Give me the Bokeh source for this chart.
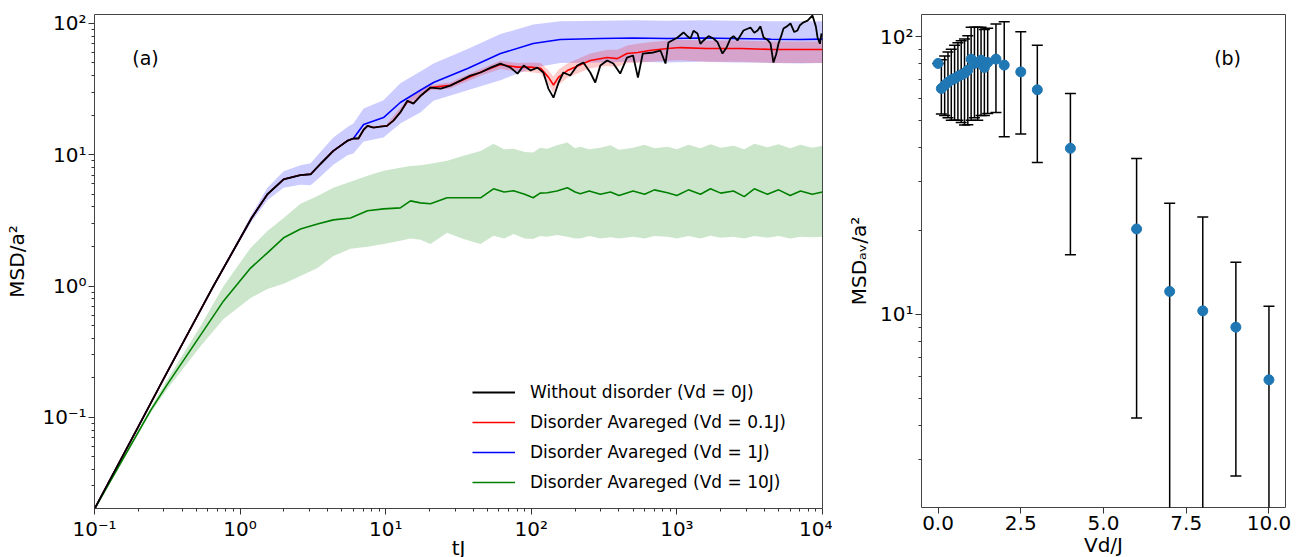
from bokeh.plotting import figure
from bokeh.models import (FixedTicker, Legend, LegendItem, Label, Whisker, TeeHead,
                          ColumnDataSource, Range1d)
from bokeh.layouts import row
from bokeh.embed import file_html
from bokeh.resources import INLINE

# ---------------- panel (a) data ----------------
black_t = [0.1, 0.2, 0.3, 0.578, 0.656, 1.0, 1.2, 1.54, 1.99, 2.6, 3.05, 3.56, 4.37, 5.47, 6.0, 6.5, 7.05,
           7.5, 8.24, 9.2, 10.2, 11.3, 12.6, 14.1, 15.5, 17.3, 20.3, 23.9, 27.8, 32.6, 38.2, 44.8, 52.6,
           61.4, 72, 80.4, 88.6, 98.9, 110, 121, 131, 142, 154, 166, 185, 207, 228, 254, 275, 298, 332,
           366, 408, 454, 500, 540, 583, 690, 771, 835, 875,
           1010, 1110, 1180, 1240, 1300, 1385, 1450, 1523, 1650, 1782, 1900, 2056, 2200, 2333, 2450, 2606,
           2866, 3201, 3400, 3580, 3750, 3936, 4200, 4396, 4603, 4800, 4989, 5200, 5395, 5700, 6026, 6400,
           6730, 7000, 7410, 7900, 8536, 9000, 9244, 9600, 9840]
black_v = [0.02, 0.085, 0.199, 0.77, 1.0, 2.3, 3.3, 5.0, 6.5, 7.0, 7.1, 8.5, 10.7, 12.8, 13.3, 13.3, 15.5,
           16.6, 16.1, 16.4, 16.6, 18.2, 21.0, 25.8, 24.5, 28.0, 32.5, 31.9, 33.6, 36.7, 40.1, 42.3, 46.1,
           49.5, 46.1, 41.5, 47.8, 43.8, 46.1, 42.3, 31.9, 27.2, 35.5, 42.3, 40.1, 47.8, 50.4, 42.3, 35.5,
           47.8, 52.2, 49.5, 41.5, 55, 57, 38.7, 59, 60.1, 62.2, 49.5, 71.6,
           78.2, 85.4, 80, 76.8, 88, 83.9, 70, 74.2, 80, 76.8, 72, 59, 66, 76.8, 80, 74.2,
           88.4, 93.2, 85, 88.4, 95, 78.2, 75, 70.3, 50.4, 58, 70.3, 80, 91.6, 95, 100, 86,
           88.4, 97, 102, 105, 115, 95, 78.2, 70, 83.9]

red_t = [0.1, 0.2, 0.3, 0.578, 0.656, 1.0, 1.2, 1.54, 1.99, 2.6, 3.05, 3.56, 4.37, 5.47, 6.0, 6.5, 7.05,
         7.5, 8.24, 9.2, 10.2, 11.3, 12.6, 14.1, 15.5, 17.3, 20.3, 27.8, 32.6, 44.8, 61.4, 80.4, 98.9,
         116, 131, 142, 154, 177, 254, 332, 390, 454, 540, 648, 861, 1059, 1600, 2735, 4603, 10000]
red_v = [0.02, 0.085, 0.199, 0.77, 1.0, 2.3, 3.3, 5.0, 6.5, 7.0, 7.1, 8.5, 10.7, 12.8, 13.3, 13.3, 15.5,
         16.6, 16.1, 16.4, 16.6, 18.2, 21.0, 25.5, 24.7, 28.0, 32.5, 33.8, 36.5, 42.5, 48.6, 46.5, 46.5,
         45.5, 39.0, 34.0, 39.0, 43.8, 52.2, 55.0, 54.0, 59.0, 60.0, 62.2, 64.4, 65.5, 64.4, 64.4, 63.4, 63.4]
red_band_t = [10.2, 14.1, 20.3, 27.8, 32.6, 44.8, 61.4, 80.4, 98.9, 116, 131, 142, 154, 177, 254, 332,
              390, 454, 540, 648, 861, 1059, 1600, 2735, 4603, 10000]
red_band_hi = [17.2, 26.5, 34, 35.5, 38.5, 45, 52, 50, 50.5, 50, 44, 39.5, 44.5, 49.5, 59, 63, 63, 68,
               70, 72, 74, 75, 74, 74, 73, 73]
red_band_lo = [16.0, 24.5, 31, 32, 34.5, 40, 45, 43, 42.5, 41.5, 34.5, 29.5, 34, 38.5, 45.5, 47.5, 46.5,
               50, 50, 51, 52, 52.5, 51, 51, 50, 50]

blue_t = [0.1, 0.2, 0.3, 0.578, 0.656, 1.0, 1.2, 1.54, 1.99, 2.6, 3.05, 3.56, 4.37, 5.47, 6.0, 7.05, 9.66,
          12.6, 17.3, 21.3, 36.5, 61.4, 103, 158, 298, 500, 861, 1500, 2447, 4400, 7000, 10000]
blue_v = [0.02, 0.085, 0.199, 0.77, 1.0, 2.3, 3.3, 5.0, 6.5, 7.0, 7.1, 8.5, 10.7, 12.8, 13.3, 17.0, 19.2,
          25.0, 31.0, 35.5, 45.3, 59.0, 70.3, 75.5, 76.8, 77.5, 76.8, 77.5, 76.8, 76.0, 75.5, 76.0]
blue_band_t = [0.656, 1.0, 1.2, 1.54, 1.99, 2.6, 3.05, 3.56, 4.37, 5.47, 6.0, 7.05, 9.66, 12.6, 17.3, 21.3,
               36.5, 61.4, 103, 158, 298, 500, 861, 1500, 2447, 4400, 7000, 10000]
blue_band_hi = [1.02, 2.4, 3.5, 5.6, 7.5, 8.3, 8.6, 10.5, 13.5, 16.3, 17.3, 22.5, 26, 35, 43, 49.5, 64,
                83, 98, 104, 105, 106, 105, 106, 105, 104, 104, 104]
blue_band_lo = [0.98, 2.2, 3.1, 4.5, 5.6, 5.9, 5.85, 6.8, 8.4, 9.9, 10.2, 12.6, 13.5, 17.3, 21, 25.8, 31,
                37, 46, 50, 50.5, 51, 50.5, 51, 50.5, 50, 49.5, 50]

green_t = [0.1, 0.243, 0.317, 0.535, 0.77, 1.18, 1.54, 1.99, 2.6, 3.4, 4.37, 5.73, 7.5, 9.66, 12.6, 14.8,
           17.3, 20.3, 26.4, 34.2, 44.8, 55, 65, 75.5, 90, 103, 115, 129, 150, 177, 200, 217, 250, 298,
           350, 400, 500, 600, 700, 861, 1000, 1200, 1452, 1700, 2000, 2447, 2900, 3400, 4188, 5000,
           6000, 7063, 8500, 10000]
green_v = [0.02, 0.113, 0.179, 0.423, 0.77, 1.37, 1.79, 2.33, 2.72, 2.97, 3.19, 3.30, 3.74, 3.87, 3.94,
           4.45, 4.3, 4.23, 4.7, 4.7, 4.7, 5.5, 5.2, 5.31, 5.0, 4.7, 5.1, 5.13, 5.3, 5.6, 5.2, 5.04, 5.3,
           5.0, 5.2, 4.9, 5.3, 5.0, 5.4, 5.13, 4.9, 5.4, 5.0, 5.5, 5.1, 5.3, 4.8, 5.5, 5.0, 5.4, 4.9,
           5.3, 5.0, 5.2]
green_hi = [0.0202, 0.118, 0.195, 0.495, 1.0, 1.95, 2.63, 3.30, 4.23, 4.86, 5.6, 6.22, 6.92, 7.55, 7.96,
            8.2, 8.3, 8.54, 9.0, 9.83, 10.7, 12.1, 11.0, 11.1, 10.5, 10.4, 11.3, 11.1, 11.8, 12.4, 11.2,
            11.5, 11.0, 11.3, 11.8, 10.9, 11.3, 11.9, 11.2, 11.5, 11.0, 11.9, 11.2, 12.0, 11.3, 11.7,
            11.0, 12.1, 11.4, 12.0, 11.2, 11.9, 11.3, 11.7]
green_lo = [0.0198, 0.108, 0.165, 0.348, 0.56, 0.81, 0.95, 1.04, 1.19, 1.37, 1.69, 1.92, 1.99, 2.09,
            2.21, 2.3, 2.25, 2.09, 2.54, 2.28, 2.09, 2.41, 2.3, 2.49, 2.3, 2.28, 2.4, 2.37, 2.45, 2.37,
            2.3, 2.3, 2.4, 2.3, 2.35, 2.3, 2.37, 2.3, 2.4, 2.37, 2.3, 2.4, 2.3, 2.42, 2.33, 2.37, 2.3,
            2.4, 2.33, 2.4, 2.3, 2.37, 2.35, 2.37]

legend_labels = ["Without disorder (Vd = 0J)", "Disorder Avareged (Vd = 0.1J)",
                 "Disorder Avareged (Vd = 1J)", "Disorder Avareged (Vd = 10J)"]

# ---------------- panel (b) data ----------------
Vd = [0, 0.1, 0.2, 0.3, 0.4, 0.5, 0.6, 0.7, 0.8, 0.9, 1.0, 1.1, 1.2, 1.3, 1.4, 1.5, 1.75, 2.0, 2.5, 3.0,
      4.0, 6.0, 7.0, 8.0, 9.0, 10.0]
msd_av = [80.0, 65.0, 66.8, 68.4, 69.8, 70.6, 71.8, 72.8, 73.8, 75.7, 82.9, 80.0, 80.7, 82.2, 77.4, 80.7,
          82.9, 78.9, 74.6, 64.3, 39.6, 20.3, 12.1, 10.3, 9.0, 5.82]
err_hi = [80.0, 82.5, 85, 88, 90, 93, 95, 96.5, 98, 100.6, 108, 108, 108, 108, 106, 107, 111, 113, 104,
          93, 62.4, 36.4, 25.1, 22.4, 15.4, 10.7]
err_lo = [80.0, 52.6, 52, 51, 50, 50, 50, 49, 48, 48.1, 50, 51, 50, 52, 52, 52.8, 53.3, 43.6, 44.6, 35.2,
          16.4, 4.24, 1.0, 1.0, 2.62, 1.0]

FONT = "DejaVu Sans"
sup = {-1: "10\u207b\u00b9", 0: "10\u2070", 1: "10\u00b9", 2: "10\u00b2", 3: "10\u00b3", 4: "10\u2074"}


def log_minors(e0, e1):
    return [m * 10.0 ** e for e in range(e0, e1) for m in range(2, 10)]


def style_axes(p):
    for ax in list(p.xaxis) + list(p.yaxis):
        ax.major_label_text_font = FONT
        ax.major_label_text_font_size = "20px"
        ax.major_label_text_color = "black"
        ax.axis_label_text_font = FONT
        ax.axis_label_text_font_size = "20px"
        ax.axis_label_text_font_style = "normal"
        ax.axis_label_text_color = "black"
        ax.axis_line_color = None
        ax.major_tick_in = 0
        ax.major_tick_out = 6
        ax.minor_tick_in = 0
        ax.minor_tick_out = 3
        ax.major_tick_line_color = "#333333"
        ax.minor_tick_line_color = "#333333"
        ax.major_label_standoff = 2
    p.outline_line_color = "#444444"
    p.outline_line_width = 1
    p.grid.visible = False


# ---------------- panel (a) ----------------
p1 = figure(x_axis_type="log", y_axis_type="log", output_backend="svg", toolbar_location=None,
            frame_width=728, frame_height=494, min_border_left=94, min_border_right=10,
            min_border_top=14, min_border_bottom=49,
            x_range=Range1d(0.1, 1e4), y_range=Range1d(0.0202, 117))

p1.varea(x=blue_band_t, y1=blue_band_lo, y2=blue_band_hi, fill_color="blue", fill_alpha=0.2)
p1.varea(x=red_band_t, y1=red_band_lo, y2=red_band_hi, fill_color="red", fill_alpha=0.2)
p1.varea(x=green_t, y1=green_lo, y2=green_hi, fill_color="green", fill_alpha=0.2)
r_blue = p1.line(blue_t, blue_v, line_color="blue", line_width=1.6)
r_red = p1.line(red_t, red_v, line_color="red", line_width=1.6)
r_green = p1.line(green_t, green_v, line_color="green", line_width=1.6)
r_black = p1.line(black_t, black_v, line_color="black", line_width=1.8)

p1.xaxis.ticker = FixedTicker(ticks=[0.1, 1, 10, 100, 1000, 10000], minor_ticks=log_minors(-1, 4))
p1.yaxis.ticker = FixedTicker(ticks=[0.1, 1, 10, 100], minor_ticks=log_minors(-2, 3))
p1.xaxis.major_label_overrides = {0.1: sup[-1], 1: sup[0], 10: sup[1], 100: sup[2], 1000: sup[3], 10000: sup[4]}
p1.yaxis.major_label_overrides = {0.1: sup[-1], 1: sup[0], 10: sup[1], 100: sup[2]}
p1.xaxis.axis_label = "tJ"
p1.yaxis.axis_label = "MSD/a\u00b2"
style_axes(p1)
p1.xaxis.axis_label_standoff = -8
p1.yaxis.axis_label_standoff = 10

legend = Legend(items=[LegendItem(label=legend_labels[0], renderers=[r_black]),
                       LegendItem(label=legend_labels[1], renderers=[r_red]),
                       LegendItem(label=legend_labels[2], renderers=[r_blue]),
                       LegendItem(label=legend_labels[3], renderers=[r_green])],
                location=(378, 16), orientation="vertical",
                glyph_width=43, glyph_height=20, label_height=20, spacing=10,
                label_standoff=15, padding=0, margin=0,
                border_line_alpha=0, background_fill_alpha=0,
                label_text_font=FONT, label_text_font_size="17px", label_text_color="black")
p1.add_layout(legend)
p1.add_layout(Label(x=0.224, y=55, text="(a)", text_align="center", text_baseline="middle",
                    text_font=FONT, text_font_size="19px", text_color="black"))

# ---------------- panel (b) ----------------
p2 = figure(y_axis_type="log", output_backend="svg", toolbar_location=None,
            frame_width=364, frame_height=493, min_border_left=89, min_border_right=14,
            min_border_top=14, min_border_bottom=50,
            x_range=Range1d(-0.5, 10.5), y_range=Range1d(2.02, 120))

src = ColumnDataSource(dict(V=Vd, m=msd_av, hi=err_hi, lo=err_lo))
wh = Whisker(source=src, base="V", upper="hi", lower="lo", dimension="height",
             line_color="black", line_width=1.5, level="underlay",
             upper_head=TeeHead(size=11, line_color="black", line_width=1.5),
             lower_head=TeeHead(size=11, line_color="black", line_width=1.5))
p2.add_layout(wh)
p2.scatter("V", "m", source=src, size=10, color="#1f77b4")

p2.xaxis.ticker = FixedTicker(ticks=[0, 2.5, 5, 7.5, 10], minor_ticks=[])
p2.xaxis.major_label_overrides = {0: "0.0", 2.5: "2.5", 5: "5.0", 7.5: "7.5", 10: "10.0"}
p2.yaxis.ticker = FixedTicker(ticks=[10, 100], minor_ticks=log_minors(0, 3))
p2.yaxis.major_label_overrides = {10: sup[1], 100: sup[2]}
p2.xaxis.axis_label = "Vd/J"
p2.yaxis.axis_label = "MSD\u2090\u1d65/a\u00b2"
style_axes(p2)
p2.xaxis.axis_label_standoff = 0
p2.yaxis.axis_label_standoff = 6
p2.add_layout(Label(x=8.75, y=83.8, text="(b)", text_align="center", text_baseline="middle",
                    text_font=FONT, text_font_size="19px", text_color="black"))

layout = row(p1, p2)
open("out.html", "w").write(file_html(layout, INLINE))
